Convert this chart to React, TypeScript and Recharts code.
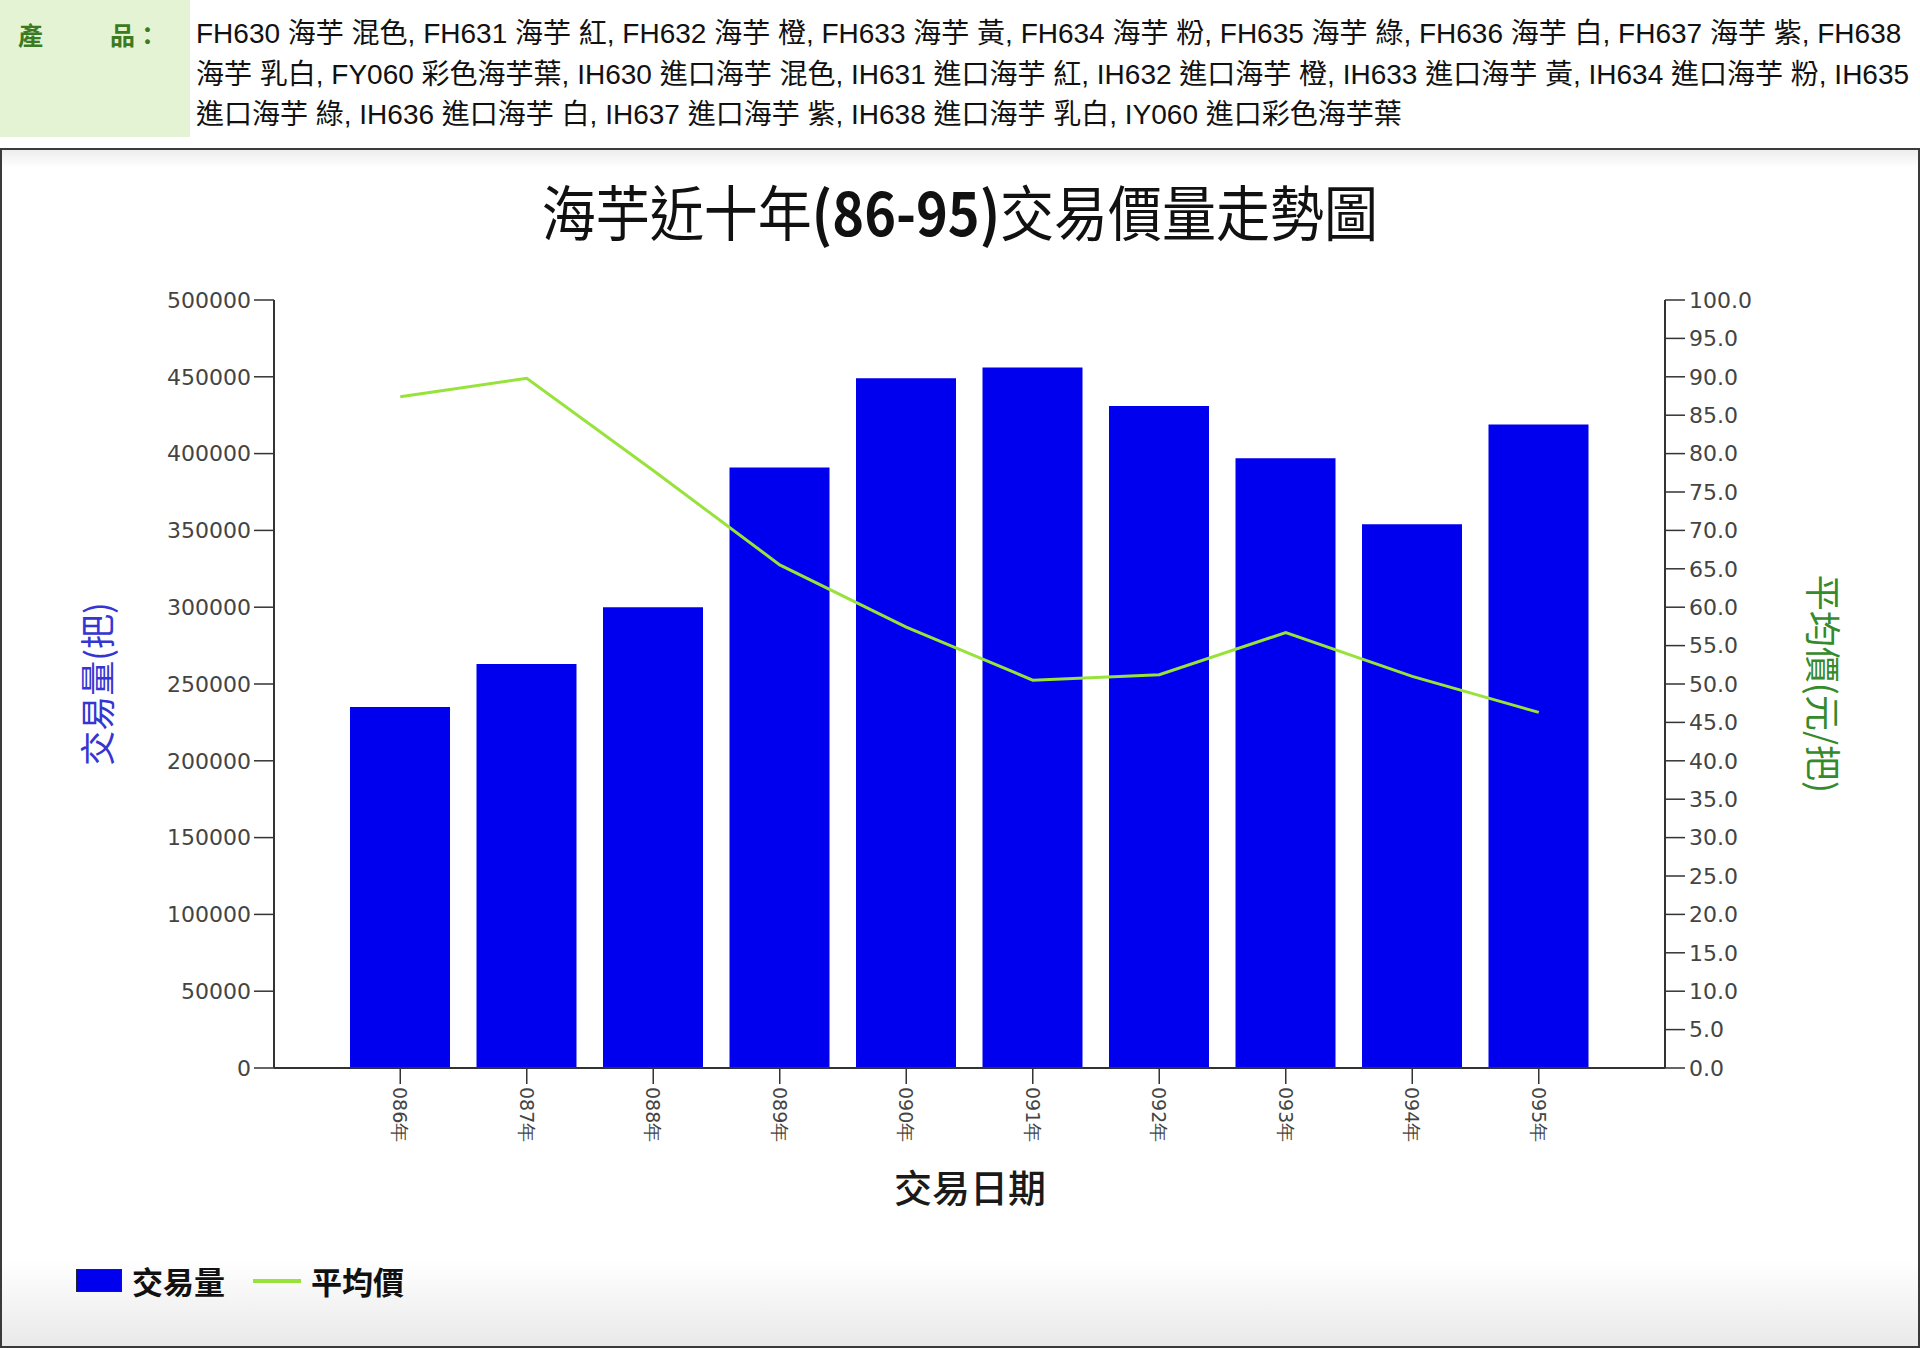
import React from 'react';
import { ComposedChart, Bar, Line, XAxis, YAxis } from 'recharts';

// 交易年度
const years = ['086年', '087年', '088年', '089年', '090年', '091年', '092年', '093年', '094年', '095年'];
// 交易量(把)
const volume = [235000, 263000, 300000, 391000, 449000, 456000, 431000, 397000, 354000, 419000];
// 平均價(元/把)
const avgPrice = [87.4, 89.8, 77.8, 65.5, 57.4, 50.5, 51.2, 56.7, 51.0, 46.3];

const volumeTicks = [0, 50000, 100000, 150000, 200000, 250000, 300000, 350000, 400000, 450000, 500000];
const priceTicks = [0, 5, 10, 15, 20, 25, 30, 35, 40, 45, 50, 55, 60, 65, 70, 75, 80, 85, 90, 95, 100];

const productLines = [
    'FH630 海芋 混色, FH631 海芋 紅, FH632 海芋 橙, FH633 海芋 黃, FH634 海芋 粉, FH635 海芋 綠, FH636 海芋 白, FH637 海芋 紫, FH638',
    '海芋 乳白, FY060 彩色海芋葉, IH630 進口海芋 混色, IH631 進口海芋 紅, IH632 進口海芋 橙, IH633 進口海芋 黃, IH634 進口海芋 粉, IH635',
    '進口海芋 綠, IH636 進口海芋 白, IH637 進口海芋 紫, IH638 進口海芋 乳白, IY060 進口彩色海芋葉',
];

const BAR_COLOR = '#0000ee';
const LINE_COLOR = '#98e23c';
const CJK = '"Noto Sans CJK TC", "Noto Sans", sans-serif';
const TICK_FONT = '"DejaVu Sans", Verdana, sans-serif';

const data = years.map((year, i) => ({
    year,
    volume: volume[i],
    price: avgPrice[i],
}));

// 旋轉 90 度的年度標籤
const YearTick = (props: any) => {
    const { x, y, payload } = props;
    return (
        <text
            x={x}
            y={y}
            transform={`rotate(90, ${x}, ${y})`}
            textAnchor="start"
            dominantBaseline="central"
            fill="#444"
            fontSize={19}
            fontFamily={TICK_FONT}
        >
            {payload.value}
        </text>
    );
};

export default function App() {
    return (
        <div style={{ position: 'relative', width: 1920, height: 1348, background: '#fff', overflow: 'hidden' }}>
            <style>{'body { margin: 0; }'}</style>

            {/* 產品列 */}
            <div style={{ position: 'absolute', left: 0, top: 0, width: 190, height: 137, background: '#e5f3d5' }} />
            <div style={{ position: 'absolute', left: 18, top: 16, fontFamily: CJK, fontWeight: 700, fontSize: 25, color: '#3b7a1e', lineHeight: '36px' }}>產</div>
            <div style={{ position: 'absolute', left: 110, top: 16, fontFamily: CJK, fontWeight: 700, fontSize: 25, color: '#3b7a1e', lineHeight: '36px' }}>品：</div>
            <div style={{ position: 'absolute', left: 196, top: 14, fontFamily: '"Liberation Sans", Arial, "Noto Sans CJK TC", sans-serif', fontSize: 28, color: '#111', lineHeight: '40.5px', whiteSpace: 'nowrap' }}>
                {productLines.map((line, i) => (
                    <div key={i}>{line}</div>
                ))}
            </div>

            {/* 圖框 */}
            <div style={{
                position: 'absolute', left: 0, top: 148, width: 1920, height: 1200, boxSizing: 'border-box',
                border: '2px solid #3a3a3a',
                background: 'linear-gradient(to bottom, #ededed 0px, #ffffff 18px, #ffffff 1110px, #e9e9e9 1196px)',
            }} />

            {/* 標題 */}
            <div style={{
                position: 'absolute', left: 0, width: 1920, top: 176, textAlign: 'center',
                fontFamily: CJK, fontSize: 60, lineHeight: '68px', color: '#111',
                transform: 'scaleX(0.9)',
            }}>
                海芋近十年<b>(86-95)</b>交易價量走勢圖
            </div>

            <div style={{ position: 'absolute', left: 0, top: 0 }}>
                <ComposedChart
                    width={1920}
                    height={1348}
                    data={data}
                    margin={{ top: 300, right: 155, bottom: 200, left: 174 }}
                >
                    <XAxis
                        dataKey="year"
                        padding={{ left: 63, right: 63 }}
                        stroke="#333"
                        axisLine={{ stroke: '#333', strokeWidth: 2 }}
                        tickLine={{ stroke: '#333', strokeWidth: 1.5 }}
                        tickSize={16}
                        tickMargin={3}
                        interval={0}
                        height={80}
                        tick={<YearTick />}
                    />
                    <YAxis
                        yAxisId="vol"
                        domain={[0, 500000]}
                        ticks={volumeTicks}
                        interval={0}
                        width={100}
                        axisLine={{ stroke: '#333', strokeWidth: 2 }}
                        tickLine={{ stroke: '#333', strokeWidth: 1.5 }}
                        tickSize={20}
                        tickMargin={3}
                        tick={{ fill: '#444', fontSize: 22, fontFamily: TICK_FONT }}
                    />
                    <YAxis
                        yAxisId="price"
                        orientation="right"
                        domain={[0, 100]}
                        ticks={priceTicks}
                        interval={0}
                        width={100}
                        axisLine={{ stroke: '#333', strokeWidth: 2 }}
                        tickLine={{ stroke: '#333', strokeWidth: 1.5 }}
                        tickSize={20}
                        tickMargin={4}
                        tickFormatter={(v: number) => v.toFixed(1)}
                        tick={{ fill: '#444', fontSize: 22, fontFamily: TICK_FONT }}
                    />
                    <Bar yAxisId="vol" dataKey="volume" fill={BAR_COLOR} barSize={100} isAnimationActive={false} />
                    <Line
                        yAxisId="price"
                        dataKey="price"
                        type="linear"
                        stroke={LINE_COLOR}
                        strokeWidth={3}
                        dot={false}
                        activeDot={false}
                        isAnimationActive={false}
                    />
                </ComposedChart>
            </div>

            {/* 座標軸標題 */}
            <div style={{
                position: 'absolute', left: 95, top: 684, transform: 'translate(-50%, -50%) rotate(-90deg)',
                fontFamily: CJK, fontSize: 35, color: '#3535d2', whiteSpace: 'nowrap',
            }}>交易量(把)</div>
            <div style={{
                position: 'absolute', left: 1825, top: 684, transform: 'translate(-50%, -50%) rotate(90deg)',
                fontFamily: CJK, fontSize: 36, color: '#358a2a', whiteSpace: 'nowrap',
            }}>平均價(元/把)</div>
            <div style={{
                position: 'absolute', left: 970, top: 1185, transform: 'translate(-50%, -50%)',
                fontFamily: CJK, fontSize: 38, color: '#1a1a1a', fontWeight: 500, whiteSpace: 'nowrap',
            }}>交易日期</div>

            {/* 圖例 */}
            <div style={{ position: 'absolute', left: 76, top: 1258, display: 'flex', alignItems: 'center', fontFamily: CJK, fontWeight: 700, fontSize: 31, color: '#111' }}>
                <span style={{ display: 'inline-block', width: 46, height: 23, background: BAR_COLOR, border: '1px solid #223', boxSizing: 'border-box', marginRight: 10 }} />
                <span>交易量</span>
                <span style={{ display: 'inline-block', width: 48, height: 4, background: LINE_COLOR, marginLeft: 28, marginRight: 10 }} />
                <span>平均價</span>
            </div>
        </div>
    );
}
